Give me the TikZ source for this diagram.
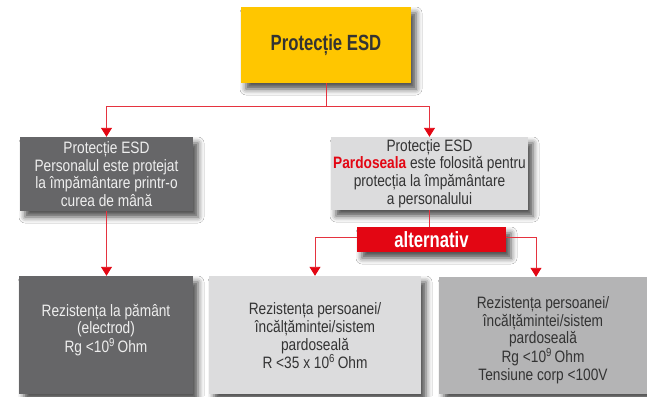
\documentclass[tikz,border=0pt]{standalone}
\usepackage{fontspec}
\setmainfont{Liberation Sans}[FakeStretch=0.83]
\newfontfamily\condb{Liberation Sans}[FakeStretch=0.76]
\usetikzlibrary{arrows.meta,shadows.blur}
\definecolor{esyellow}{HTML}{FFC600}
\definecolor{esdark}{HTML}{666668}
\definecolor{eslight}{HTML}{DCDCDD}
\definecolor{esmid}{HTML}{B4B4B5}
\definecolor{esred}{HTML}{E30613}
\definecolor{esline}{HTML}{E5333F}
\definecolor{estxtlight}{HTML}{EEEEEE}
\definecolor{estxtdark}{HTML}{333333}
\begin{document}
\begin{tikzpicture}[x=1pt,y=-1pt,
  shade/.style={blur shadow={shadow xshift=5pt,shadow yshift=-6pt,shadow blur radius=6pt,shadow opacity=70}},
  panel/.style={rectangle, inner sep=0pt, align=center, shade},
  body/.style={align=center, inner sep=0pt, font=\fontsize{16.5}{17.7}\selectfont},
  conn/.style={draw=esline, line width=0.9pt},
  arr/.style={conn, -{Triangle[width=11pt,length=9pt,color=esred]}},
]
\useasboundingbox (0,0) rectangle (647,396);
\fill[white] (0,0) rectangle (647,396);

\node[panel, fill=esyellow, minimum width=170pt, minimum height=76pt,
      text=estxtdark, font=\condb\bfseries\fontsize{22}{24}\selectfont] (top) at (326,45) {Protecție ESD};

\node[panel, body, fill=esdark, text=estxtlight, minimum width=173pt, minimum height=74pt] (lm) at (106.5,174)
  {Protecție ESD\\Personalul este protejat\\la împământare printr-o\\curea de mână};

\node[panel, body, fill=eslight, text=estxtdark, minimum width=197pt, minimum height=73pt] (rm) at (429.5,173.5)
  {Protecție ESD\\{\bfseries\color{esred}Pardoseala} este folosită pentru\\protecția la împământare\\a personalului};

\node[panel, fill=esdark, minimum width=174pt, minimum height=118pt] (bl) at (106,335) {};
\node[panel, fill=eslight, minimum width=212pt, minimum height=118pt] (bm) at (315,335) {};
\node[panel, fill=esmid, minimum width=208pt, minimum height=117pt] (br) at (543,335.5) {};

\node[body, text=estxtlight] (blt) at (106,330)
  {Rezistența la pământ\\(electrod)\\Rg <10\textsuperscript{9}\,Ohm};
\node[body, text=estxtdark] (bmt) at (315,336)
  {Rezistența persoanei/\\încălțămintei/sistem\\pardoseală\\R <35 x 10\textsuperscript{6}\,Ohm};
\node[body, text=estxtdark] (brt) at (543,340)
  {Rezistența persoanei/\\încălțămintei/sistem\\pardoseală\\Rg <10\textsuperscript{9}\,Ohm\\Tensiune corp <100V};

\coordinate (j) at (326,106);
\draw[conn] (top.south) -- (j);
\draw[arr] (j) -| (lm.north);
\draw[arr] (j) -| (rm.north);
\draw[arr] (lm.south) -- (lm.south |- bl.north);

\node[panel, fill=esred, text=white, minimum width=149pt, minimum height=25pt,
      font=\condb\bfseries\fontsize{22}{24}\selectfont] (alt) at (431.5,239.5) {alternativ};
\draw[conn] (rm.south) -- (rm.south |- alt.north);

\draw[arr] ([yshift=2pt]alt.west) -| (bm.north);
\draw[arr] ([yshift=2pt]alt.east) -| ([xshift=-7pt]br.north);
\end{tikzpicture}
\end{document}
